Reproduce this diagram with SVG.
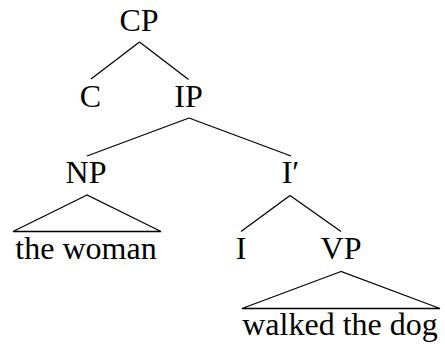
<svg xmlns="http://www.w3.org/2000/svg" width="445" height="345" viewBox="0 0 445 345">
<style>
text{font-family:"Liberation Serif","Times New Roman",serif;font-size:32px;fill:#000;text-anchor:middle}
.e{stroke:#000;stroke-width:1.3;fill:none;stroke-linejoin:miter}
</style>
<rect width="445" height="345" fill="#fff"/>
<g id="connectors">
<line class="e" x1="139.5" y1="42" x2="91" y2="79"/>
<line class="e" x1="139.5" y1="42" x2="188.5" y2="79.5"/>
<line class="e" x1="189" y1="118" x2="87" y2="156"/>
<line class="e" x1="189" y1="118" x2="291" y2="156"/>
<polygon class="e" points="87,195 13,231.5 161,231.5"/>
<line class="e" x1="290" y1="195.5" x2="241" y2="231.5"/>
<line class="e" x1="290" y1="195.5" x2="341" y2="231.5"/>
<polygon class="e" points="341,271.5 242,308.5 440,308.5"/>
</g>
<g id="CP"><text x="139" y="31">CP</text></g>
<g id="C"><text x="90.5" y="107">C</text></g>
<g id="IP"><text x="188.5" y="107">IP</text></g>
<g id="NP"><text x="86" y="183">NP</text></g>
<g id="Ibar"><text x="290.5" y="183">I′</text></g>
<g id="the-woman"><text x="86" y="259">the woman</text></g>
<g id="I"><text x="241" y="259">I</text></g>
<g id="VP"><text x="341" y="259">VP</text></g>
<g id="walked-the-dog"><text x="340" y="335">walked the dog</text></g>
</svg>
